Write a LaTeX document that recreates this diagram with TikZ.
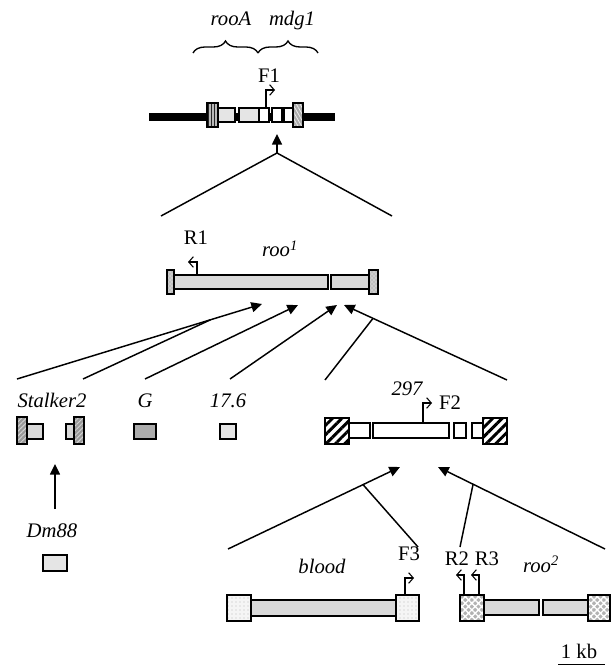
\documentclass[tikz,border=0pt]{standalone}
\usepackage{fontspec}
\setmainfont{Liberation Serif}
\usetikzlibrary{arrows.meta,patterns,patterns.meta,fit,decorations.pathreplacing,calc}
\begin{document}
\begin{tikzpicture}[x=0.75pt,y=-0.75pt,
  bx/.style={draw,line width=0.9pt,inner sep=0pt},
  lgray/.style={bx,fill=gray!30},
  pgray/.style={bx,fill=gray!20},
  wbox/.style={bx,fill=white},
  dgray/.style={bx,fill=gray!65},
  ltrA/.style={bx,preaction={fill=gray!55},pattern={Lines[angle=90,distance=2.4pt,line width=0.9pt]},pattern color=gray!30!black},
  ltrB/.style={bx,preaction={fill=gray!65},pattern={Lines[angle=-60,distance=2.4pt,line width=0.6pt]},pattern color=gray!15},
  ltrC/.style={bx,preaction={fill=gray!50},pattern=crosshatch dots,pattern color=white},
  ltrD/.style={bx,preaction={fill=gray!80},pattern={Lines[angle=45,distance=2.5pt,line width=0.7pt]},pattern color=gray!35},
  ltrE/.style={bx,preaction={fill=white},pattern={Lines[angle=45,distance=5pt,line width=2.2pt]},pattern color=black},
  ltrF/.style={bx,preaction={fill=gray!8},pattern=dots,pattern color=gray!55},
  ltrG/.style={bx,preaction={fill=gray!60},pattern={Hatch[angle=45,distance=3.5pt,line width=1pt]},pattern color=white},
  conn/.style={line width=1.1pt},
  arr/.style={conn,-{Triangle[length=8pt,width=7.5pt]}},
  prom/.style={line width=0.8pt,-{Straight Barb[length=3.5pt,width=8pt]}},
  lab/.style={font=\fontsize{15.5}{18}\selectfont,anchor=base,inner sep=0pt},
  ilab/.style={lab,font=\fontsize{15.5}{18}\selectfont\itshape},
  brc/.style={line width=1pt,decorate,decoration={brace,amplitude=9pt}}
]
\useasboundingbox (0,0) rectangle (611,666);

% ---------- top element ----------
\coordinate (tl) at (149,117);
\coordinate (tr) at (335,117);
\draw[line width=5.3pt] (tl) -- (tr);
\node[ltrA,fit={(207,103)(218,127)}] (t1) {};
\node[pgray,fit={(218,108)(235,122)}] (t2) {};
\node[pgray,fit={(239,108)(259,122)}] (t3) {};
\node[wbox,fit={(259,108)(269,122)}] (t4) {};
\node[wbox,fit={(272,108)(282,122)}] (t5) {};
\node[wbox,fit={(284,108)(293,122)}] (t6) {};
\node[ltrB,fit={(293,103)(303,127)}] (t7) {};
\draw[prom] (266,108) -- (266,90) -- (275,90);
\node[lab] (F1) at (269,83) {F1};
\draw[brc] (193,53) -- (258,53);
\draw[brc] (258,53) -- (318,53);
\node[ilab] (rooA) at (231,26) {rooA};
\node[ilab] (mdg) at (292,26) {mdg1};

\coordinate (apexT) at (277,153);
\coordinate (tipT) at (277,134);
\coordinate (lT) at (161,216);
\coordinate (rT) at (392,216);
\draw[arr] (apexT) -- (tipT);
\draw[conn] (lT) -- (apexT) -- (rT);

% ---------- roo1 ----------
\node[ltrC,fit={(167,270)(174,294)}] (r1) {};
\node[lgray,fit={(174,275)(328,289)}] (r2) {};
\node[lgray,fit={(331,275)(369,289)}] (r3) {};
\node[ltrC,fit={(369,270)(378,294)}] (r4) {};
\draw[prom] (197,275) -- (197,262) -- (188,262);
\node[lab] (R1) at (196,245) {R1};
\node[ilab] (roo1) at (280,257) {roo\textsuperscript{1}};

\coordinate (tA) at (262,304);
\coordinate (tB) at (298,305);
\coordinate (tC) at (337,305);
\coordinate (tD) at (344,305);
\coordinate (sA) at (17,379);
\coordinate (sA2) at (83,379);
\coordinate (sB) at (145,379);
\coordinate (sC) at (230,379);
\coordinate (sD) at (507,380);
\coordinate (sD2) at (325,380);
\draw[arr] (sA) -- (tA);
\draw[conn] (sA2) -- ($(sA)!0.79!(tA)$);
\draw[arr] (sB) -- (tB);
\draw[arr] (sC) -- (tC);
\draw[arr] (sD) -- (tD);
\draw[conn] (sD2) -- ($(sD)!0.822!(tD)$);

% ---------- third row ----------
\node[ilab] (stk) at (52,407) {Stalker2};
\node[ltrD,fit={(17,417)(27,444)}] (s1) {};
\node[lgray,fit={(27,424)(43,439)}] (s2) {};
\node[lgray,fit={(66,424)(74,439)}] (s3) {};
\node[ltrD,fit={(74,417)(84,444)}] (s4) {};
\node[ilab] (Glab) at (145,407) {G};
\node[dgray,fit={(134,424)(156,439)}] (g1) {};
\node[ilab] (l176) at (228,407) {17.6};
\node[pgray,fit={(220,424)(236,439)}] (b176) {};

\node[ilab] (l297) at (407,395) {297};
\node[ltrE,fit={(325,418)(349,444)}] (e1) {};
\node[wbox,fit={(349,423)(370,438)}] (e2) {};
\node[wbox,fit={(373,423)(449,438)}] (e3) {};
\node[wbox,fit={(454,423)(466,438)}] (e4) {};
\node[wbox,fit={(472,423)(483,438)}] (e5) {};
\node[ltrE,fit={(483,418)(507,444)}] (e6) {};
\draw[prom] (423,423) -- (423,403) -- (432,403);
\node[lab] (F2) at (450,409) {F2};

% ---------- Dm88 ----------
\coordinate (dmS) at (55,509);
\coordinate (dmT) at (55,464);
\draw[arr] (dmS) -- (dmT);
\node[ilab] (dm) at (52,537) {Dm88};
\node[pgray,fit={(43,555)(67,571)}] (dmb) {};

% ---------- bottom row ----------
\coordinate (uA) at (400,467);
\coordinate (uB) at (438,467);
\coordinate (vA) at (228,549);
\coordinate (vB) at (605,549);
\coordinate (wA) at (418,547);
\coordinate (wB) at (460,547);
\draw[arr] (vA) -- (uA);
\draw[conn] (wA) -- ($(vA)!0.785!(uA)$);
\draw[arr] (vB) -- (uB);
\draw[conn] (wB) -- ($(vB)!0.79!(uB)$);

\node[ilab] (blood) at (322,573) {blood};
\node[ltrF,fit={(227,595)(251,621)}] (b1) {};
\node[lgray,fit={(251,600)(396,616)}] (b2) {};
\node[ltrF,fit={(396,595)(419,621)}] (b3) {};
\draw[prom] (405,595) -- (405,578) -- (414,578);
\node[lab] (F3) at (409,560) {F3};

\node[ltrG,fit={(460,595)(484,621)}] (q1) {};
\node[lgray,fit={(484,600)(539,615)}] (q2) {};
\node[lgray,fit={(543,600)(588,615)}] (q3) {};
\node[ltrG,fit={(588,595)(610,621)}] (q4) {};
\draw[prom] (464,595) -- (464,575) -- (456,575);
\draw[prom] (479,595) -- (479,575) -- (471,575);
\node[lab] (R2) at (457,565) {R2};
\node[lab] (R3) at (487,565) {R3};
\node[ilab] (roo2) at (541,572) {roo\textsuperscript{2}};

% ---------- scale ----------
\node[lab] (kb) at (579,658) {1 kb};
\coordinate (kbL) at (558,664.5);
\coordinate (kbR) at (605,664.5);
\draw[line width=0.8pt] (kbL) -- (kbR);
\end{tikzpicture}
\end{document}
